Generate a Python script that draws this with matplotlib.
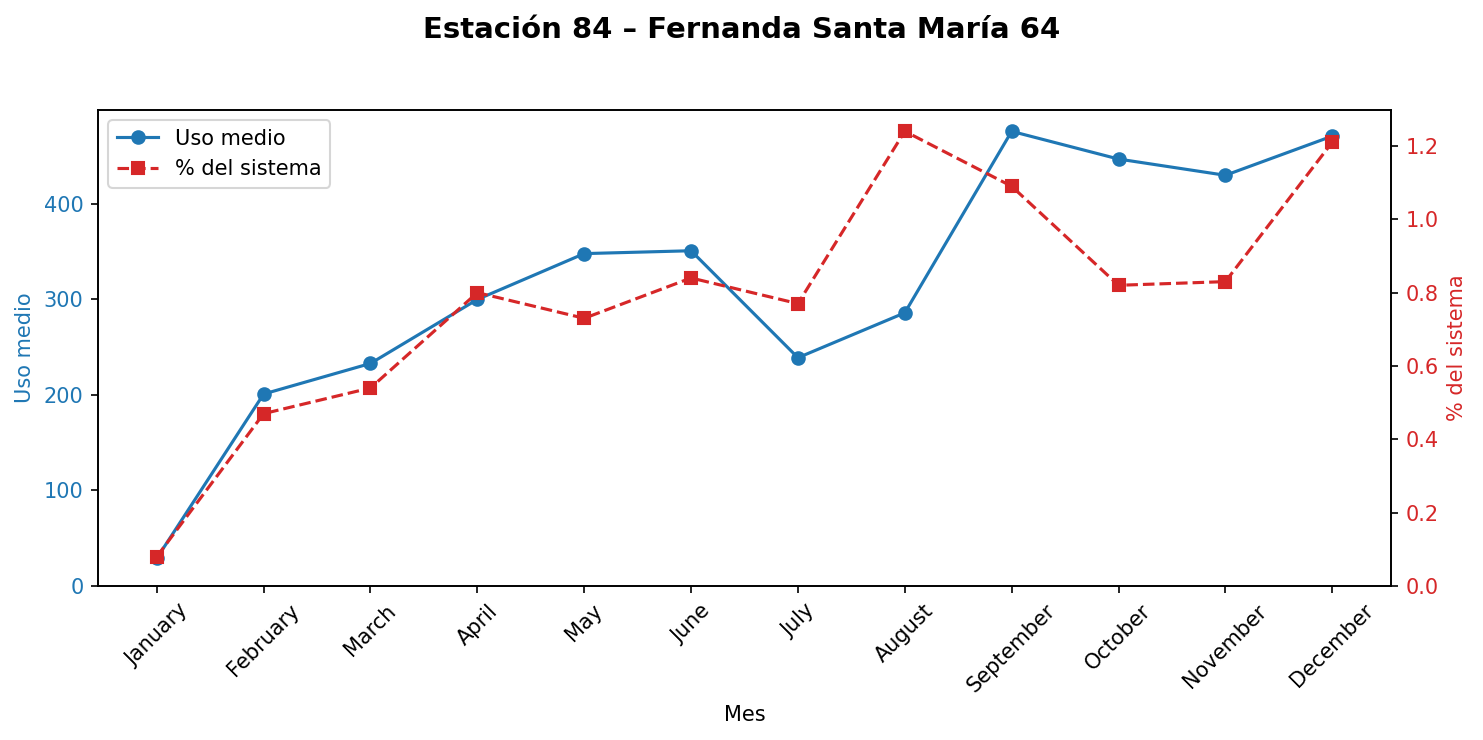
import numpy as np
import matplotlib
matplotlib.use('Agg')
import matplotlib.pyplot as plt

# --- data
months = ['January', 'February', 'March', 'April', 'May', 'June',
          'July', 'August', 'September', 'October', 'November', 'December']
uso_medio = [29, 201, 233, 300, 348, 351, 239, 286, 476, 447, 430, 471]
pct_sistema = [0.08, 0.47, 0.54, 0.80, 0.73, 0.84, 0.77, 1.24, 1.09, 0.82, 0.83, 1.21]

blue = '#1f77b4'
red = '#d62728'

fig = plt.figure(figsize=(1483 / 150, 740 / 150), dpi=150)
ax = fig.add_axes([98 / 1483, 1 - 586 / 740, (1391 - 98) / 1483, (586 - 110) / 740])
ax2 = ax.twinx()

x = np.arange(len(months))
l1, = ax.plot(x, uso_medio, marker='o', linestyle='-', color=blue, label='Uso medio')
l2, = ax2.plot(x, pct_sistema, marker='s', linestyle='--', color=red, label='% del sistema')

ax.set_ylim(bottom=0)
ax2.set_ylim(bottom=0)

ax.set_xticks(x)
ax.set_xticklabels(months, rotation=45)
ax.set_xlabel('Mes')
ax.set_ylabel('Uso medio', color=blue)
ax2.set_ylabel('% del sistema', color=red)
ax.tick_params(axis='y', labelcolor=blue)
ax2.tick_params(axis='y', labelcolor=red)

ax.legend([l1, l2], [l1.get_label(), l2.get_label()], loc='upper left')
fig.suptitle('Estación 84 – Fernanda Santa María 64', fontweight='bold', fontsize=14, y=0.979)

fig.savefig('out.png', dpi=150)
